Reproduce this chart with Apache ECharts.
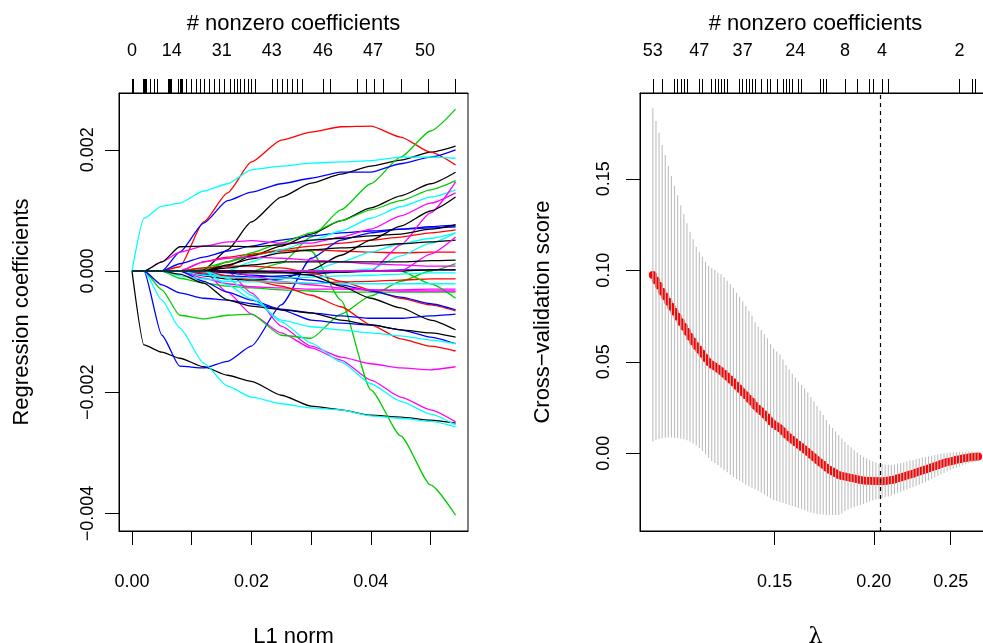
<!DOCTYPE html>
<html><head><meta charset="utf-8">
<script src="https://cdn.jsdelivr.net/npm/echarts@6/dist/echarts.min.js"></script>
<style>html,body{margin:0;padding:0;background:#fff}#c{width:983px;height:643px}</style>
</head><body><div id="c"></div>
<script>
// ---------- Left panel: coefficient paths vs L1 norm ----------
const l1Knots = [0, 0.002, 0.005, 0.008, 0.012, 0.016, 0.020, 0.025, 0.030, 0.035, 0.040, 0.045, 0.050, 0.0542];

const blackPaths = [
  [0,0,0,0,0.00002,0.00035,0.00081,0.00122,0.00145,0.00160,0.00173,0.00183,0.00196,0.00206],
  [0,-0.00122,-0.00134,-0.00144,-0.00158,-0.00172,-0.00182,-0.00205,-0.00223,-0.00229,-0.00238,-0.00241,-0.00246,-0.00251],
  [0,0,0,0,0,0.00008,0.00025,0.00041,0.00061,0.00083,0.00104,0.00124,0.00144,0.00163],
  [0,0,0,0,-0.00008,-0.00013,-0.00015,-0.00013,0.00002,0.00026,0.00051,0.00074,0.00099,0.00122],
  [0,0,0.00015,0.00040,0.00041,0.00041,0.00040,0.00043,0.00051,0.00054,0.00058,0.00061,0.00069,0.00076],
  [0,0,0,0,0,0.00010,0.00020,0.00030,0.00035,0.00038,0.00041,0.00045,0.00048,0.00051],
  [0,0,0,0,0,-0.00002,-0.00003,-0.00003,-0.00002,-0.00002,0,0,0.00002,0.00002],
  [0,0,0,0,0,0,0,-0.00002,-0.00007,-0.00025,-0.00045,-0.00061,-0.00081,-0.00097],
  [0,0,0,-0.00005,-0.00020,-0.00048,-0.00058,-0.00064,-0.00069,-0.00081,-0.00089,-0.00097,-0.00102,-0.00109],
  [0,0,0,0,0,0.00005,0.00010,0.00015,0.00015,0.00015,0.00015,0.00015,0.00017,0.00018]
];
const redPaths = [
  [0,0,0,0.00007,0.00081,0.00129,0.00180,0.00216,0.00229,0.00238,0.00239,0.00221,0.00196,0.00175],
  [0,0,0,0,0,0.00015,0.00026,0.00035,0.00041,0.00046,0.00051,0.00056,0.00063,0.00068],
  [0,0,0,0,0.00015,0.00023,0.00028,0.00033,0.00035,0.00033,0.00031,0.00030,0.00031,0.00031],
  [0,0,0,0,0,-0.00008,-0.00015,-0.00020,-0.00021,-0.00018,-0.00017,-0.00015,-0.00013,-0.00013],
  [0,0,0,0,0.00005,0.00008,0.00008,0.00005,-0.00003,-0.00017,-0.00031,-0.00045,-0.00056,-0.00066],
  [0,0,0,0,-0.00003,-0.00008,-0.00015,-0.00025,-0.00040,-0.00059,-0.00089,-0.00112,-0.00124,-0.00132]
];
const greenPaths = [
  [0,0,0,0,0,0,0,0.00013,0.00056,0.00101,0.00144,0.00188,0.00231,0.00267],
  [0,0,0,0,0.00005,0.00015,0.00025,0.00035,0.00033,-0.00048,-0.00196,-0.00272,-0.00353,-0.00403],
  [0,0,-0.00031,-0.00073,-0.00079,-0.00073,-0.00071,-0.00106,-0.00111,-0.00071,-0.00041,-0.00017,0,0.00012],
  [0,0,0,0,0,0.00015,0.00030,0.00046,0.00063,0.00083,0.00101,0.00116,0.00134,0.00149],
  [0,0,0,-0.00012,-0.00020,-0.00025,-0.00028,-0.00031,-0.00033,-0.00035,-0.00035,-0.00035,-0.00035,-0.00035],
  [0,0,0,0,0,0,0,0,0,0,0,0,-0.00021,-0.00045]
];
const bluePaths = [
  [0,0,0,0.00031,0.00079,0.00116,0.00130,0.00144,0.00153,0.00163,0.00163,0.00177,0.00188,0.00200],
  [0,0,-0.00106,-0.00157,-0.00160,-0.00149,-0.00124,-0.00056,0.00021,0.00051,0.00063,0.00069,0.00073,0.00076],
  [0,0,0,0.00012,0.00023,0.00033,0.00041,0.00051,0.00058,0.00063,0.00066,0.00069,0.00071,0.00073],
  [0,0,0,0,-0.00005,-0.00008,-0.00010,-0.00008,-0.00005,-0.00002,0,0.00002,0.00002,0.00002],
  [0,0,0,0,0,-0.00003,-0.00007,-0.00010,-0.00015,-0.00023,-0.00033,-0.00043,-0.00054,-0.00064],
  [0,0,-0.00023,-0.00036,-0.00045,-0.00048,-0.00054,-0.00063,-0.00069,-0.00074,-0.00078,-0.00078,-0.00074,-0.00071],
  [0,0,0,0,-0.00017,-0.00035,-0.00048,-0.00064,-0.00081,-0.00086,-0.00089,-0.00097,-0.00109,-0.00120]
];
const cyanPaths = [
  [0,0.00087,0.00107,0.00112,0.00132,0.00144,0.00167,0.00173,0.00178,0.00180,0.00182,0.00188,0.00188,0.00186],
  [0,0,-0.00048,-0.00094,-0.00152,-0.00190,-0.00208,-0.00219,-0.00226,-0.00229,-0.00239,-0.00243,-0.00248,-0.00257],
  [0,0,0,0,0,0,0.00015,0.00035,0.00050,0.00066,0.00087,0.00106,0.00122,0.00134],
  [0,0,0,0,0,0,0,0,0,0,0.00003,0.00025,0.00046,0.00063],
  [0,0,0,0,0,0,0,0,0,0.00015,0.00031,0.00045,0.00054,0.00063],
  [0,0,0,0,-0.00007,-0.00010,-0.00012,-0.00012,-0.00010,-0.00008,-0.00007,-0.00005,-0.00003,-0.00003],
  [0,0,0,-0.00008,-0.00013,-0.00017,-0.00018,-0.00018,-0.00020,-0.00021,-0.00021,-0.00021,-0.00021,-0.00021],
  [0,0,0,0,0,-0.00023,-0.00046,-0.00081,-0.00092,-0.00097,-0.00102,-0.00107,-0.00114,-0.00120],
  [0,0,0,0,0,-0.00012,-0.00040,-0.00084,-0.00119,-0.00150,-0.00186,-0.00215,-0.00236,-0.00254]
];
const magentaPaths = [
  [0,0,0,0,0,-0.00035,-0.00071,-0.00102,-0.00127,-0.00147,-0.00180,-0.00208,-0.00229,-0.00249],
  [0,0,0,0,0,0,-0.00036,-0.00091,-0.00124,-0.00142,-0.00153,-0.00160,-0.00163,-0.00158],
  [0,0,0,0,0,0,0,0,0,0,0,0.00043,0.00096,0.00147],
  [0,0,0.00015,0.00031,0.00041,0.00048,0.00050,0.00046,0.00046,0.00056,0.00069,0.00091,0.00112,0.00129],
  [0,0,0,0,-0.00012,-0.00021,-0.00026,-0.00028,-0.00030,-0.00030,-0.00031,-0.00031,-0.00030,-0.00030],
  [0,0,0,0,0,0,-0.00008,-0.00017,-0.00023,-0.00028,-0.00031,-0.00033,-0.00033,-0.00033],
  [0,0,0,0,0,0,0,0,0,0,0,0,0.00028,0.00056],
  [0,0,0,0,0.00015,0.00021,0.00023,0.00021,0.00018,0.00015,0.00012,0.00010,0.00008,0.00008]
];

const l1Ticks = [0, 0.01, 0.02, 0.03, 0.04, 0.05];
const l1TickLabels = [0, 0.02, 0.04];
const coefTicks = [-0.004, -0.002, 0, 0.002];
const l1Rug = [0,0.00022,0.00189,0.00206,0.00223,0.00240,0.00302,0.00374,0.00430,0.00608,0.00625,0.00642,0.00658,
  0.00776,0.00804,0.00826,0.00849,0.00916,0.01000,0.01072,0.01139,0.01211,0.01290,0.01379,0.01462,0.01541,0.01653,
  0.01709,0.01764,0.01821,0.01876,0.01948,0.02005,0.02065,0.02357,0.02441,0.02524,0.02608,0.02692,0.02776,0.02859,
  0.03204,0.03317,0.03774,0.03920,0.04059,0.04209,0.04518,0.04963,0.05422];
const l1CountPos = [0, 0.00665, 0.01503, 0.0234, 0.03199, 0.04037, 0.04908];
const l1CountText = ['0','14','31','43','46','47','50'];

// ---------- Right panel: cross-validation ----------
const cvLambda = [0.10536,0.10631,0.10727,0.10824,0.10922,0.11020,0.11120,0.11220,0.11321,0.11424,
  0.11527,0.11631,0.11736,0.11842,0.11949,0.12057,0.12165,0.12275,0.12386,0.12498,
  0.12611,0.12724,0.12839,0.12955,0.13072,0.13190,0.13309,0.13429,0.13550,0.13673,
  0.13796,0.13921,0.14046,0.14173,0.14301,0.14430,0.14560,0.14692,0.14824,0.14958,
  0.15093,0.15230,0.15367,0.15506,0.15646,0.15787,0.15930,0.16073,0.16218,0.16365,
  0.16513,0.16662,0.16812,0.16964,0.17117,0.17271,0.17427,0.17585,0.17743,0.17903,
  0.18065,0.18228,0.18393,0.18559,0.18726,0.18895,0.19066,0.19238,0.19412,0.19587,
  0.19764,0.19942,0.20122,0.20304,0.20487,0.20672,0.20859,0.21047,0.21237,0.21429,
  0.21621,0.21816,0.22013,0.22212,0.22412,0.22615,0.22819,0.23025,0.23233,0.23442,
  0.23654,0.23868,0.24083,0.24301,0.24520,0.24741,0.24965,0.25190,0.25417,0.25647,
  0.25878,0.26112,0.26348,0.26585,0.26825,0.27067];
const cvMean = [0.09749,0.09443,0.09150,0.08833,0.08574,0.08279,0.08008,0.07738,0.07467,0.07180,
  0.06921,0.06639,0.06369,0.06115,0.05858,0.05653,0.05434,0.05202,0.04989,0.04844,
  0.04743,0.04615,0.04503,0.04352,0.04197,0.04033,0.03877,0.03686,0.03527,0.03339,
  0.03167,0.02986,0.02817,0.02596,0.02434,0.02298,0.02126,0.01962,0.01757,0.01587,
  0.01478,0.01369,0.01205,0.01027,0.00877,0.00740,0.00604,0.00462,0.00344,0.00213,
  0.00071,-0.00079,-0.00221,-0.00361,-0.00497,-0.00631,-0.00776,-0.00899,-0.00995,-0.01090,
  -0.01186,-0.01240,-0.01268,-0.01309,-0.01344,-0.01377,-0.01418,-0.01459,-0.01486,-0.01495,
  -0.01498,-0.01508,-0.01519,-0.01525,-0.01527,-0.01514,-0.01492,-0.01459,-0.01426,-0.01363,
  -0.01322,-0.01273,-0.01213,-0.01153,-0.01112,-0.01049,-0.01000,-0.00934,-0.00885,-0.00825,
  -0.00768,-0.00708,-0.00648,-0.00590,-0.00536,-0.00481,-0.00443,-0.00402,-0.00358,-0.00320,
  -0.00284,-0.00257,-0.00227,-0.00205,-0.00191,-0.00178];
const cvSe = [0.0910,0.0872,0.0837,0.0801,0.0773,0.0742,0.0714,0.0689,0.0663,0.0637,
  0.0616,0.0593,0.0574,0.0558,0.0543,0.0536,0.0531,0.0527,0.0525,0.0527,
  0.0527,0.0525,0.0528,0.0527,0.0523,0.0520,0.0517,0.0509,0.0503,0.0495,
  0.0488,0.0479,0.0470,0.0456,0.0448,0.0444,0.0438,0.0432,0.0422,0.0414,
  0.0408,0.0403,0.0392,0.0380,0.0370,0.0362,0.0354,0.0345,0.0339,0.0333,
  0.0325,0.0316,0.0305,0.0295,0.0284,0.0272,0.0260,0.0247,0.0238,0.0228,
  0.0219,0.0205,0.0189,0.0176,0.0166,0.0156,0.0146,0.0137,0.0128,0.0121,
  0.0113,0.0107,0.0101,0.0096,0.0093,0.0089,0.0087,0.0084,0.0082,0.0081,
  0.0079,0.0077,0.0077,0.0076,0.0075,0.0074,0.0072,0.0070,0.0068,0.0066,
  0.0064,0.0061,0.0059,0.0057,0.0054,0.0051,0.0049,0.0046,0.0043,0.0040,
  0.0037,0.0034,0.0032,0.0030,0.0028,0.0027];
const lambdaMin = 0.20487;
const lambdaTicks = [0.15, 0.20, 0.25];
const cvTicks = [0, 0.05, 0.10, 0.15];
const lambdaRug = [0.10536,0.10824,0.11220,0.11321,0.11424,0.11527,0.11631,0.12057,0.12165,0.12498,0.12611,
  0.12724,0.12839,0.12955,0.13072,0.13550,0.13673,0.13796,0.13921,0.14046,0.14173,0.14430,0.14692,0.14824,
  0.15093,0.15367,0.15506,0.15646,0.15787,0.16073,0.16218,0.17117,0.17271,0.17427,0.18393,0.19066,0.19764,
  0.19942,0.20487,0.20859,0.25647,0.26585,0.26825];
const lambdaCountPos = [0.10536, 0.12057, 0.1367, 0.1593, 0.18393, 0.20487, 0.25647];
const lambdaCountText = ['53','47','37','24','8','4','2'];

// ---------- build ----------
const FONT = "'Liberation Sans', Arial, Helvetica, sans-serif";
const minus = s => s.replace('-', '\u2212');
const lbl = {color:'#000', fontFamily: FONT, fontSize: 18};
const nameStyle = {color:'#000', fontFamily: FONT, fontSize: 22};
const tick = {show:true, length:14, lineStyle:{color:'#000', width:1}};
const line0 = {show:true, onZero:false, lineStyle:{color:'#000', width:1}};

const groups = [[blackPaths,'#000000'],[redPaths,'#FF0000'],[greenPaths,'#00CD00'],
                [bluePaths,'#0000FF'],[cyanPaths,'#00FFFF'],[magentaPaths,'#FF00FF']];
const series = [];
const maxN = Math.max(...groups.map(g => g[0].length));
for (let j = 0; j < maxN; j++) {
  for (const [paths, color] of groups) {
    if (!paths[j]) continue;
    series.push({
      type:'line', xAxisIndex:0, yAxisIndex:0, showSymbol:false, symbol:'none',
      smooth:0.2, smoothMonotone:'x', silent:true,
      lineStyle:{color, width:1.3}, itemStyle:{color},
      data: l1Knots.map((x,i) => [x, paths[j][i]])
    });
  }
}
series.push({
  type:'scatter', xAxisIndex:2, yAxisIndex:1, symbol:'circle', symbolSize:8, silent:true,
  itemStyle:{color:'#FF0000', opacity:1}, z:3,
  data: cvLambda.map((l,i) => [Math.log(l), cvMean[i]]),
  markLine:{silent:true, symbol:'none', label:{show:false}, animation:false,
    lineStyle:{color:'#000', type:[4,4], width:1.2},
    data:[{xAxis: Math.log(lambdaMin)}]}
});
series.push({
  type:'custom', xAxisIndex:2, yAxisIndex:1, z:4, silent:true,
  encode:{x:0, y:[1,2]},
  data: cvLambda.map((l,i) => [Math.log(l), cvMean[i]-cvSe[i], cvMean[i]+cvSe[i]]),
  renderItem:(params, api) => {
    const a = api.coord([api.value(0), api.value(1)]);
    const b = api.coord([api.value(0), api.value(2)]);
    return {type:'line', shape:{x1:a[0], y1:a[1], x2:b[0], y2:b[1]},
            style:{stroke:'#BEBEBE', lineWidth:1.1}};
  }
});

const lnTicks = lambdaTicks.map(Math.log);
const option = {
  animation:false,
  backgroundColor:'#fff',
  grid:[
    {left:119, top:93, width:349, height:438, show:true, borderColor:'#000', borderWidth:1, containLabel:false, outerBoundsMode:'none'},
    {left:640, top:93, width:351, height:438, show:true, borderColor:'#000', borderWidth:1, containLabel:false, outerBoundsMode:'none'}
  ],
  xAxis:[
    {type:'value', gridIndex:0, position:'bottom', min:-0.002178, max:0.05628,
     axisLine:line0, splitLine:{show:false},
     axisTick:Object.assign({customValues:l1Ticks}, tick),
     axisLabel:Object.assign({customValues:l1TickLabels, margin:42, formatter:v => v.toFixed(2)}, lbl),
     name:'L1 norm', nameLocation:'middle', nameGap:95, nameTextStyle:nameStyle},
    {type:'value', gridIndex:0, position:'top', min:-0.002178, max:0.05628,
     axisLine:line0, splitLine:{show:false},
     axisTick:Object.assign({customValues:l1Rug}, tick),
     axisLabel:Object.assign({customValues:l1CountPos, margin:33,
        formatter:v => { const k = l1CountPos.findIndex(p => Math.abs(p-v) < 1e-7); return k >= 0 ? l1CountText[k] : ''; }}, lbl),
     name:'# nonzero coefficients', nameLocation:'middle', nameGap:58, nameTextStyle:nameStyle},
    {type:'value', gridIndex:1, position:'bottom', min:Math.log(0.1015), max:Math.log(0.2810),
     axisLine:line0, splitLine:{show:false},
     axisTick:Object.assign({customValues:lnTicks}, tick),
     axisLabel:Object.assign({customValues:lnTicks, margin:42,
        formatter:v => Math.exp(v).toFixed(2)}, lbl),
     name:'λ', nameLocation:'middle', nameGap:95, nameTextStyle:Object.assign({}, nameStyle, {fontFamily:"'DejaVu Serif', serif"})},
    {type:'value', gridIndex:1, position:'top', min:Math.log(0.1015), max:Math.log(0.2810),
     axisLine:line0, splitLine:{show:false},
     axisTick:Object.assign({customValues:lambdaRug.map(Math.log)}, tick),
     axisLabel:Object.assign({customValues:lambdaCountPos.map(Math.log), margin:33,
        formatter:v => { const k = lambdaCountPos.findIndex(p => Math.abs(Math.log(p)-v) < 1e-7); return k >= 0 ? lambdaCountText[k] : ''; }}, lbl),
     name:'# nonzero coefficients', nameLocation:'middle', nameGap:58, nameTextStyle:nameStyle}
  ],
  yAxis:[
    {type:'value', gridIndex:0, min:-0.00429, max:0.002937,
     axisLine:line0, splitLine:{show:false},
     axisTick:Object.assign({customValues:coefTicks}, tick),
     axisLabel:Object.assign({customValues:coefTicks, margin:22, rotate:90,
        formatter:v => minus(v.toFixed(3))}, lbl),
     name:'Regression coefficients', nameLocation:'middle', nameGap:86, nameRotate:90, nameTextStyle:nameStyle},
    {type:'value', gridIndex:1, min:-0.04246, max:0.19689,
     axisLine:line0, splitLine:{show:false},
     axisTick:Object.assign({customValues:cvTicks}, tick),
     axisLabel:Object.assign({customValues:cvTicks, margin:27, rotate:90,
        formatter:v => minus(v.toFixed(2))}, lbl),
     name:'Cross\u2212validation score', nameLocation:'middle', nameGap:86, nameRotate:90, nameTextStyle:nameStyle}
  ],
  series
};
const chart = echarts.init(document.getElementById('c'), null, {renderer:'canvas'});
chart.setOption(option);
</script>
</body></html>
